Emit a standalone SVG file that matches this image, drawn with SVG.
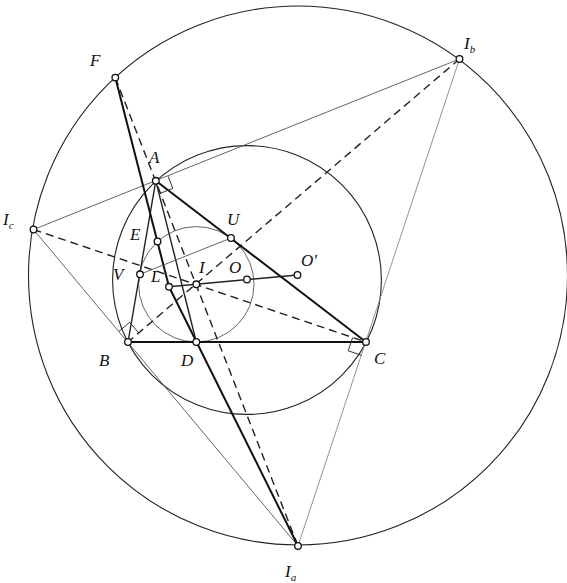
<svg xmlns="http://www.w3.org/2000/svg" width="567" height="583" viewBox="0 0 567 583">
<style>
.bg{fill:#fff}
.circ{fill:none;stroke:#222;stroke-width:1.1}
.thin{fill:none;stroke:#555;stroke-width:0.9}
.light{fill:none;stroke:#888;stroke-width:0.9}
.thick{fill:none;stroke:#111;stroke-width:2}
.med{fill:none;stroke:#222;stroke-width:1.4}
.dash{fill:none;stroke:#222;stroke-width:1.4;stroke-dasharray:8 5}
.mark{fill:none;stroke:#333;stroke-width:1}
.pt{fill:#fff;stroke:#111;stroke-width:1.3}
.lbl{font-family:"Liberation Serif","DejaVu Serif",serif;font-style:italic;font-size:17px;fill:#111}
.sub{font-size:11px}
</style>
<rect class="bg" x="0" y="0" width="567" height="583"/>
<g id="circles">
<circle class="circ" cx="298" cy="275.5" r="269.5"/>
<circle class="circ" cx="247" cy="280" r="134.4"/>
<circle class="thin" cx="196.3" cy="284.3" r="57.7"/>
</g>
<g id="connectors">
<line class="thin" x1="33.5" y1="229.5" x2="459.5" y2="59"/>
<line class="thin" x1="33.5" y1="229.5" x2="298" y2="546"/>
<line class="light" x1="459.5" y1="59" x2="298" y2="546"/>
<line class="dash" x1="33.5" y1="229.5" x2="366" y2="342"/>
<line class="dash" x1="459.5" y1="59" x2="128" y2="342"/>
<line class="dash" x1="115.3" y1="77.6" x2="298" y2="546"/>
<line class="med" x1="155.8" y1="180.8" x2="128" y2="342"/>
<line class="thick" x1="155.8" y1="180.8" x2="366" y2="342"/>
<line class="thick" x1="128" y1="342" x2="366" y2="342"/>
<line class="med" x1="155.8" y1="180.8" x2="196.3" y2="342"/>
<line class="thick" x1="115.3" y1="77.6" x2="169" y2="286.8"/>
<line class="thick" x1="169" y1="286.8" x2="298" y2="546"/>
<line class="thin" x1="140" y1="274.3" x2="231" y2="238"/>
<line class="med" x1="169" y1="286.8" x2="297.5" y2="275"/>
<polyline class="mark" points="168.1,176.3 172.8,188.4 160.7,193.1"/>
<polyline class="mark" points="119,331.3 129.7,322.3 138.7,333"/>
<polyline class="mark" points="352.7,337.5 348.2,350.8 361.5,355.3"/>
</g>
<g id="node-F"><circle class="pt" cx="115.3" cy="77.6" r="3.3"/><text class="lbl" x="90" y="66">F</text></g>
<g id="node-Ib"><circle class="pt" cx="459.5" cy="59" r="3.3"/><text class="lbl" x="464" y="49">I<tspan class="sub" dy="4">b</tspan></text></g>
<g id="node-Ic"><circle class="pt" cx="33.5" cy="229.5" r="3.3"/><text class="lbl" x="3" y="225">I<tspan class="sub" dy="4">c</tspan></text></g>
<g id="node-Ia"><circle class="pt" cx="298" cy="546" r="3.3"/><text class="lbl" x="285" y="577">I<tspan class="sub" dy="4">a</tspan></text></g>
<g id="node-A"><circle class="pt" cx="155.8" cy="180.8" r="3.3"/><text class="lbl" x="149" y="163">A</text></g>
<g id="node-B"><circle class="pt" cx="128" cy="342" r="3.3"/><text class="lbl" x="99" y="366">B</text></g>
<g id="node-C"><circle class="pt" cx="366" cy="342" r="3.3"/><text class="lbl" x="374" y="364">C</text></g>
<g id="node-D"><circle class="pt" cx="196.3" cy="342" r="3.3"/><text class="lbl" x="181" y="366">D</text></g>
<g id="node-E"><circle class="pt" cx="157.5" cy="241.5" r="3.3"/><text class="lbl" x="130" y="240">E</text></g>
<g id="node-U"><circle class="pt" cx="231" cy="238" r="3.3"/><text class="lbl" x="227" y="225">U</text></g>
<g id="node-V"><circle class="pt" cx="140" cy="274.3" r="3.3"/><text class="lbl" x="113" y="280">V</text></g>
<g id="node-L"><circle class="pt" cx="169" cy="286.8" r="3.3"/><text class="lbl" x="151" y="282">L</text></g>
<g id="node-I"><circle class="pt" cx="196.3" cy="284.3" r="3.3"/><text class="lbl" x="199" y="273">I</text></g>
<g id="node-O"><circle class="pt" cx="247" cy="279.5" r="3.3"/><text class="lbl" x="229" y="273">O</text></g>
<g id="node-Op"><circle class="pt" cx="297.5" cy="275" r="3.3"/><text class="lbl" x="301" y="266">O′</text></g>
</svg>
